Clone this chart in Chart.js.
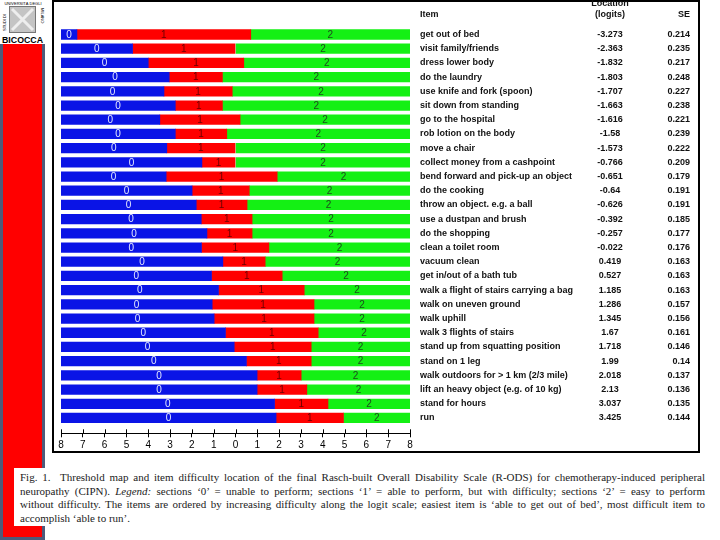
<!DOCTYPE html>
<html>
<head>
<meta charset="utf-8">
<script src="https://cdn.jsdelivr.net/npm/chart.js@4.4.0/dist/chart.umd.min.js"></script>
<style>
  body { margin: 0; width: 720px; height: 540px; background: #fff; position: relative; overflow: hidden; }
  #band { position: absolute; left: 0; top: 0; width: 45px; height: 540px; background: #ff0000;
          border: 3px solid #4f5a7a; border-top: 0; box-sizing: border-box; }
  #logo { position: absolute; left: 0; top: 0; }
  #frame { position: absolute; left: 52px; top: 0; width: 648px; height: 453px; border: 2px solid #000; box-sizing: border-box; }
  #wrap { position: absolute; left: 0; top: 0; width: 720px; height: 460px; }
  #caption { position: absolute; left: 14px; top: 468px; width: 700px; height: 58px; background: #fff;
             font-family: "Liberation Serif", "Times New Roman", serif; font-size: 11px; color: #222; }
  #caption div { position: absolute; left: 6px; width: 685px; line-height: 13.7px; text-align: justify; text-align-last: justify; }
  #caption div.last { text-align-last: left; }
</style>
</head>
<body>
<div id="band"></div>
<svg id="logo" width="45" height="44" viewBox="0 0 45 44">
  <rect width="45" height="44" fill="#fff"/>
  <text x="23" y="4.5" font-size="4" text-anchor="middle" font-family="Liberation Sans">UNIVERSITÀ DEGLI</text>
  <rect x="9.5" y="6.5" width="26" height="26" fill="#c4c4c4" stroke="#777" stroke-width="1"/>
  <path d="M12 9 L33 30 M33 9 L12 30" stroke="#eee" stroke-width="3"/>
  <text transform="translate(6,31) rotate(-90)" font-size="4" font-family="Liberation Sans">STUDI DI</text>
  <text transform="translate(41,8) rotate(90)" font-size="4" font-family="Liberation Sans">MILANO</text>
  <text x="2" y="43" font-size="9" font-weight="bold" textLength="41" lengthAdjust="spacingAndGlyphs" font-family="Liberation Sans">BICOCCA</text>
</svg>
<div id="frame"></div>
<div id="wrap"><canvas id="rods"></canvas></div>
<div id="caption">
  <div style="top:3px">Fig. 1.&nbsp; Threshold map and item difficulty location of the final Rasch-built Overall Disability Scale (R-ODS) for chemotherapy-induced peripheral</div>
  <div style="top:16.7px">neuropathy (CIPN). <i>Legend:</i> sections ‘0’ = unable to perform; sections ‘1’ = able to perform, but with difficulty; sections ‘2’ = easy to perform</div>
  <div style="top:30.4px">without difficulty. The items are ordered by increasing difficulty along the logit scale; easiest item is ‘able to get out of bed’, most difficult item to</div>
  <div class="last" style="top:44.1px">accomplish ‘able to run’.</div>
</div>
<script>
const items = ['get out of bed', 'visit family/friends', 'dress lower body', 'do the laundry',
  'use knife and fork (spoon)', 'sit down from standing', 'go to the hospital', 'rob lotion on the body',
  'move a chair', 'collect money from a cashpoint', 'bend forward and pick-up an object', 'do the cooking',
  'throw an object. e.g. a ball', 'use a dustpan and brush', 'do the shopping', 'clean a toilet room',
  'vacuum clean', 'get in/out of a bath tub', 'walk a flight of stairs carrying a bag', 'walk on uneven ground',
  'walk uphill', 'walk 3 flights of stairs', 'stand up from squatting position', 'stand on 1 leg',
  'walk outdoors for > 1 km (2/3 mile)', 'lift an heavy object (e.g. of 10 kg)', 'stand for hours', 'run'];
const logits = [-3.273, -2.363, -1.832, -1.803, -1.707, -1.663, -1.616, -1.58, -1.573, -0.766, -0.651, -0.64,
  -0.626, -0.392, -0.257, -0.022, 0.419, 0.527, 1.185, 1.286, 1.345, 1.67, 1.718, 1.99, 2.018, 2.13, 3.037, 3.425];
const seValues = [0.214, 0.235, 0.217, 0.248, 0.227, 0.238, 0.221, 0.239, 0.222, 0.209, 0.179, 0.191, 0.191,
  0.185, 0.177, 0.176, 0.163, 0.163, 0.163, 0.157, 0.156, 0.161, 0.146, 0.14, 0.137, 0.136, 0.135, 0.144];
// thresholds between sections 0|1 and 1|2
const thresh01 = [-7.27, -4.72, -4.0, -3.04, -3.28, -2.76, -3.47, -2.76, -3.15, -1.54, -3.18, -1.99, -1.80,
  -1.57, -1.31, -1.56, -0.58, -1.10, -0.78, -1.07, -0.98, -0.46, -0.06, 0.50, 0.99, 0.99, 1.79, 1.86];
const thresh12 = [0.70, 0.0, 0.38, -0.60, -0.15, -0.60, 0.21, -0.40, 0.0, 0.0, 1.91, 0.63, 0.53, 0.76,
  0.76, 1.53, 1.36, 2.14, 3.15, 3.60, 3.60, 3.79, 3.47, 3.47, 3.01, 3.27, 4.24, 4.95];
const axisMin = -8, axisMax = 8;

const rows = items.map((_, i) => i);
const sections = [
  { label: '0', backgroundColor: '#0a14e6', labelColor: '#e4e8ff',
    data: rows.map(i => ({ y: i, x: [axisMin, thresh01[i]] })) },
  { label: '1', backgroundColor: '#ff0000', labelColor: '#6a0000',
    data: rows.map(i => ({ y: i, x: [thresh01[i], thresh12[i]] })) },
  { label: '2', backgroundColor: '#14f014', labelColor: '#1e4a1e',
    data: rows.map(i => ({ y: i, x: [thresh12[i], axisMax] })) }
];
sections.forEach(s => { s.barThickness = 9.6; s.grouped = false; s.borderWidth = 0; });

const overlay = {
  id: 'overlay',
  afterDatasetsDraw(chart) {
    const ctx = chart.ctx;
    ctx.save();
    ctx.font = '10px "Liberation Sans", Arial, sans-serif';
    ctx.textAlign = 'center';
    ctx.textBaseline = 'middle';
    chart.data.datasets.forEach((ds, d) => {
      chart.getDatasetMeta(d).data.forEach(bar => {
        ctx.fillStyle = ds.labelColor;
        ctx.fillText(ds.label, (bar.x + bar.base) / 2, bar.y + 0.5);
      });
    });

    // tick marks above the axis line too
    const xs = chart.scales.x, bottom = chart.chartArea.bottom;
    ctx.strokeStyle = '#000';
    ctx.lineWidth = 1;
    xs.ticks.forEach((t, i) => {
      const px = Math.round(xs.getPixelForTick(i)) + 0.5;
      ctx.beginPath();
      ctx.moveTo(px, bottom - 4);
      ctx.lineTo(px, bottom);
      ctx.stroke();
    });

    // item table
    const ys = chart.scales.y;
    ctx.fillStyle = '#111';
    ctx.font = 'bold 9px "Liberation Sans", Arial, sans-serif';
    ctx.textAlign = 'left';
    ctx.fillText('Item', 420, 15);
    ctx.textAlign = 'center';
    ctx.fillText('Location', 610, 4);
    ctx.fillText('(logits)', 610, 15);
    ctx.textAlign = 'right';
    ctx.fillText('SE', 690, 15);
    items.forEach((name, i) => {
      const y = ys.getPixelForValue(i);
      ctx.textAlign = 'left';
      ctx.fillText(name, 420, y);
      ctx.textAlign = 'center';
      ctx.fillText(String(logits[i]), 610, y);
      ctx.textAlign = 'right';
      ctx.fillText(String(seValues[i]), 690, y);
    });
    ctx.restore();
  }
};

new Chart(document.getElementById('rods'), {
  type: 'bar',
  data: { datasets: sections },
  plugins: [overlay],
  options: {
    indexAxis: 'y',
    responsive: true,
    maintainAspectRatio: false,
    animation: false,
    layout: { padding: { left: 61, right: 310, top: 27.4, bottom: 6.7 } },
    plugins: { legend: { display: false }, tooltip: { enabled: false } },
    scales: {
      x: {
        type: 'linear', min: axisMin, max: axisMax, offset: false,
        ticks: { stepSize: 1, autoSkip: false, maxRotation: 0, padding: 2, color: '#000',
                 font: { family: 'Liberation Sans', size: 10 }, callback: v => Math.abs(v) },
        grid: { drawOnChartArea: false, tickLength: 4, color: '#000', offset: false },
        border: { color: '#000', width: 1 },
        afterFit: s => { s.height = 20; }
      },
      y: { type: 'linear', reverse: true, min: -0.5, max: 28.08, display: false,
           offset: false, grid: { offset: false } }
    }
  }
});
</script>
</body>
</html>
